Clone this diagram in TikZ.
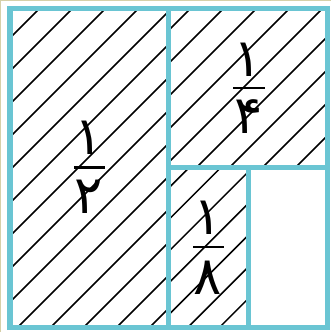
\documentclass[tikz,border=0pt]{standalone}
\usepackage{fontspec}
\newfontfamily\adad[Script=Arabic]{DejaVu Sans}
\definecolor{kadrabi}{RGB}{106,197,211}
\definecolor{hashie}{RGB}{214,208,168}
\begin{document}
\begin{tikzpicture}[x=0.02cm, y=-0.02cm,
    kadr/.style={draw=kadrabi, line width=3.1pt},
    hashur/.style={line width=0.85pt},
    raqam/.style={font=\adad\fontsize{30}{36}\selectfont, inner sep=0pt},
    khat/.style={line width=1.7pt}]
    \useasboundingbox (0,0) rectangle (331,332);
    \draw[hashie, line width=1.5pt] (0,332) -- (0,0) -- (331,0);

    \begin{scope}
        \clip (10,8.5) rectangle (168.5,327.5);
        \foreach \k in {1,...,14} \draw[hashur] ({15+33*\k},0) -- ({15+33*\k-340},340);
    \end{scope}
    \begin{scope}
        \clip (168.5,8.5) rectangle (327.5,167.5);
        \foreach \k in {5,...,14} \draw[hashur] ({1+33*\k},0) -- ({1+33*\k-340},340);
    \end{scope}
    \begin{scope}
        \clip (168.5,167.5) rectangle (248.5,327.5);
        \foreach \k in {-1,...,7} \draw[hashur] ({356.7+31.7*\k},0) -- ({356.7+31.7*\k-340},340);
    \end{scope}

    \draw[kadr] (10,8.5) rectangle (327.5,327.5);
    \draw[kadr] (168.5,8.5) -- (168.5,327.5);
    \draw[kadr] (168.5,167.5) -- (327.5,167.5);
    \draw[kadr] (248.5,167.5) -- (248.5,327.5);

    \node[raqam] (sorat2) at (89,138) {۱};
    \node[raqam] (makhraj2) at (89,196.5) {۲};
    \draw[khat] (74,167.7) -- (105,167.7);

    \node[raqam] (sorat4) at (248,60) {۱};
    \node[raqam] (makhraj4) at (249,116.5) {۴};
    \draw[khat] (233,88) -- (265,88);

    \node[raqam] (sorat8) at (208,217.5) {۱};
    \node[raqam] (makhraj8) at (208,278) {۸};
    \draw[khat] (193,247) -- (224,247);
\end{tikzpicture}
\end{document}
